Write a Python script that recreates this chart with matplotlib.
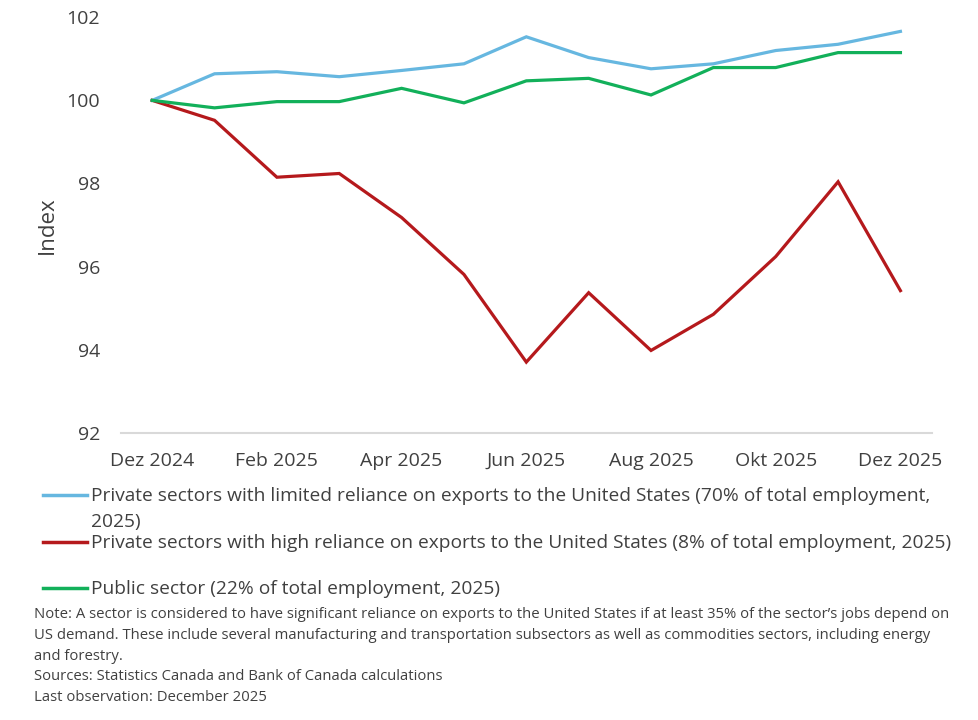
import numpy as np
import matplotlib
matplotlib.use('Agg')
import matplotlib.pyplot as plt
from matplotlib.lines import Line2D

plt.rcParams['font.family'] = ['Open Sans', 'DejaVu Sans']

# monatliche Werte Dez 2024 - Dez 2025
months = list(range(13))
tick_pos = [0, 2, 4, 6, 8, 10, 12]
tick_labels = ['Dez 2024', 'Feb 2025', 'Apr 2025', 'Jun 2025', 'Aug 2025', 'Okt 2025', 'Dez 2025']

limited = [100.0, 100.64, 100.69, 100.57, 100.72, 100.88, 101.53, 101.03, 100.76, 100.88, 101.20, 101.35, 101.66]
high = [100.0, 99.52, 98.15, 98.24, 97.18, 95.81, 93.70, 95.37, 93.98, 94.85, 96.24, 98.04, 95.42]
public = [100.0, 99.82, 99.97, 99.97, 100.29, 99.94, 100.47, 100.53, 100.13, 100.79, 100.79, 101.15, 101.15]

labels = [
    'Private sectors with limited reliance on exports to the United States (70% of total employment,\n2025)',
    'Private sectors with high reliance on exports to the United States (8% of total employment, 2025)',
    'Public sector (22% of total employment, 2025)',
]
colors = ['#66b7e0', '#b5191c', '#12b05a']

note = ("Note: A sector is considered to have significant reliance on exports to the United States if at least 35% of the sector\u2019s jobs depend on\n"
        "US demand. These include several manufacturing and transportation subsectors as well as commodities sectors, including energy\n"
        "and forestry.\n"
        "Sources: Statistics Canada and Bank of Canada calculations\n"
        "Last observation: December 2025")

txt = '#404040'

fig = plt.figure(figsize=(9.79, 7.2), dpi=100)
ax = fig.add_axes([0.1236, 0.399, 0.828, 0.577])

for ser, c in zip([limited, high, public], colors):
    ax.plot(months, ser, color=c, lw=2.3, solid_joinstyle='miter')

ax.set_xlim(-0.5, 12.5)
ax.set_ylim(92, 102)
ax.set_yticks([92, 94, 96, 98, 100, 102])
ax.set_xticks(tick_pos)
ax.set_xticklabels(tick_labels)
ax.tick_params(axis='both', length=0, labelsize=14, labelcolor=txt)
ax.tick_params(axis='y', pad=15)
ax.tick_params(axis='x', pad=14)
for s in ['top', 'right', 'left']:
    ax.spines[s].set_visible(False)
ax.spines['bottom'].set_color('#d9d9d9')
ax.spines['bottom'].set_linewidth(1.5)
ax.set_ylabel('Index', fontsize=16, color=txt, labelpad=6)

# legende von Hand
H = 720.0
W = 979.0
ys = [495, 542, 588]
for y, lab, c in zip(ys, labels, colors):
    fig.add_artist(Line2D([43 / W, 87 / W], [1 - y / H, 1 - y / H], color=c, lw=2.5))
    fig.text(91 / W, 1 - (y - 8) / H, lab, fontsize=13.8, color=txt, va='top', ha='left', linespacing=1.55)

fig.text(34 / W, 1 - 607 / H, note, fontsize=10.75, color=txt, va='top', ha='left', linespacing=1.53)

fig.savefig('out.png', dpi=100)
